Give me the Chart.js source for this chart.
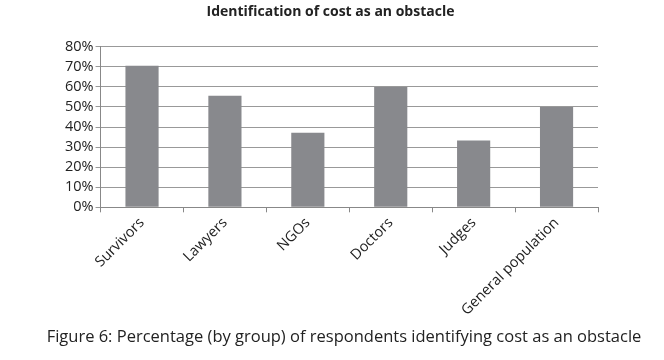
<!DOCTYPE html>
<html>
<head>
<meta charset="utf-8">
<script src="https://cdn.jsdelivr.net/npm/chart.js@4"></script>
<style>
  html, body { margin: 0; padding: 0; background: #fff; }
  #wrap { position: relative; width: 664px; height: 360px; }
  #caption {
    position: absolute; left: 0; width: 688px; top: 324px;
    text-align: center; color: #222;
    font-family: 'Open Sans', 'Liberation Sans', sans-serif; font-size: 16.5px;
  }
</style>
</head>
<body>
<div id="wrap">
  <canvas id="costChart" width="664" height="360"></canvas>
  <div id="caption">Figure 6: Percentage (by group) of respondents identifying cost as an obstacle</div>
</div>
<script>
// Identification of cost as an obstacle
const groups = ['Survivors', 'Lawyers', 'NGOs', 'Doctors', 'Judges', 'General population'];
const costPercent = [70.6, 55.6, 37.2, 60, 33.3, 50];
const yTicks = [0, 10, 20, 30, 40, 50, 60, 70, 80];

const FONT = "'Open Sans', 'Liberation Sans', sans-serif";

const ctx = document.getElementById('costChart').getContext('2d');
new Chart(ctx, {
    type: 'bar',
    data: {
        labels: groups,
        datasets: [{
            label: 'Cost as an obstacle',
            data: costPercent,
            backgroundColor: '#88898d',
            borderWidth: 0,
            barPercentage: 0.4,
            categoryPercentage: 1
        }]
    },
    options: {
        responsive: false,
        animation: false,
        layout: { padding: { left: 63, right: 66, top: 4, bottom: 39 } },
        plugins: {
            legend: { display: false },
            tooltip: { enabled: false },
            title: {
                display: true,
                text: 'Identification of cost as an obstacle',
                color: '#222',
                font: { family: FONT, size: 14, weight: 'bold' },
                padding: { top: 0, bottom: 26 }
            }
        },
        scales: {
            x: {
                offset: true,
                grid: { display: true, drawOnChartArea: false, offset: true, tickLength: 5, color: '#888' },
                border: { display: true, color: '#888' },
                ticks: {
                    maxRotation: 45, minRotation: 45,
                    autoSkip: false,
                    color: '#222',
                    font: { family: FONT, size: 14.5 },
                    padding: 2
                }
            },
            y: {
                min: 0,
                max: 80,
                afterBuildTicks: axis => { axis.ticks = yTicks.map(v => ({ value: v })); },
                grid: { color: '#999', tickLength: 5 },
                border: { display: true, color: '#888' },
                ticks: {
                    autoSkip: false,
                    color: '#222',
                    font: { family: FONT, size: 14.5 },
                    padding: 2,
                    callback: v => v + '%'
                }
            }
        }
    }
});
</script>
</body>
</html>
